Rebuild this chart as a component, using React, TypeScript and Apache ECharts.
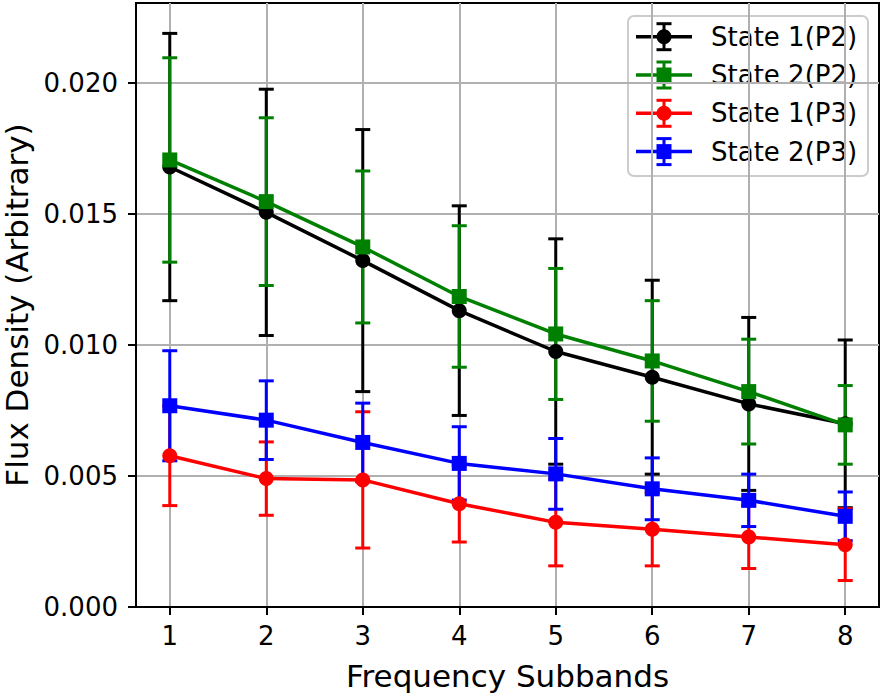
import React, { useEffect, useRef } from "react";
import * as echarts from "echarts";

const subbands = [1, 2, 3, 4, 5, 6, 7, 8];
const yTicks = [0, 0.005, 0.01, 0.015, 0.02];

const seriesNames = ["State 1(P2)", "State 2(P2)", "State 1(P3)", "State 2(P3)"];
const seriesColors = ["#000000", "#008000", "#ff0000", "#0000ff"];
const seriesSymbols = ["circle", "rect", "circle", "rect"];

const state1P2 = [0.01679, 0.01506, 0.01322, 0.01131, 0.00975, 0.00877, 0.00775, 0.00699];
const state1P2Err = [0.0051, 0.0047, 0.005, 0.004, 0.0043, 0.0037, 0.0033, 0.0032];
const state2P2 = [0.01706, 0.01547, 0.01374, 0.01185, 0.01042, 0.00939, 0.00822, 0.00695];
const state2P2Err = [0.0039, 0.0032, 0.0029, 0.0027, 0.0025, 0.0023, 0.002, 0.0015];
const state1P3 = [0.00577, 0.0049, 0.00485, 0.00394, 0.00323, 0.00297, 0.00267, 0.00238];
const state1P3Err = [0.0019, 0.0014, 0.0026, 0.00146, 0.00166, 0.0014, 0.0012, 0.00137];
const state2P3 = [0.00768, 0.00713, 0.00628, 0.00548, 0.00508, 0.00451, 0.00407, 0.00346];
const state2P3Err = [0.0021, 0.0015, 0.0015, 0.0014, 0.00135, 0.00118, 0.001, 0.00093];

const seriesValues = [state1P2, state2P2, state1P3, state2P3];
const seriesErrors = [state1P2Err, state2P2Err, state1P3Err, state2P3Err];

const FONT = "DejaVu Sans";

export default function App() {
  const ref = useRef<HTMLDivElement>(null);

  useEffect(() => {
    if (!ref.current) return;
    const chart = echarts.init(ref.current, undefined, { renderer: "svg" });

    const series: any[] = [];
    seriesNames.forEach((name, i) => {
      const color = seriesColors[i];
      series.push({
        type: "custom",
        name: name + " err",
        data: subbands.map((x, j) => [x, seriesValues[i][j], seriesErrors[i][j]]),
        encode: { x: 0, y: 1 },
        silent: true,
        renderItem: (params: any, api: any) => {
          const x = api.value(0);
          const y = api.value(1);
          const e = api.value(2);
          const top = api.coord([x, y + e]);
          const bot = api.coord([x, y - e]);
          const hw = 7.5;
          const style = { stroke: color, lineWidth: 3 };
          return {
            type: "group",
            children: [
              { type: "line", shape: { x1: top[0], y1: top[1], x2: bot[0], y2: bot[1] }, style },
              { type: "line", shape: { x1: top[0] - hw, y1: top[1], x2: top[0] + hw, y2: top[1] }, style },
              { type: "line", shape: { x1: bot[0] - hw, y1: bot[1], x2: bot[0] + hw, y2: bot[1] }, style },
            ],
          };
        },
      });
      series.push({
        type: "line",
        name,
        data: subbands.map((x, j) => [x, seriesValues[i][j]]),
        symbol: seriesSymbols[i],
        symbolSize: 15,
        showAllSymbol: true,
        lineStyle: { color, width: 3.5 },
        itemStyle: { color },
        silent: true,
      });
    });

    // legend drawn as graphic, built from series arrays
    const legendChildren: any[] = [
      {
        type: "rect",
        shape: { x: 628, y: 16, width: 240, height: 160, r: 6 },
        style: { fill: "rgba(255,255,255,0.8)", stroke: "#cccccc", lineWidth: 2 },
      },
    ];
    seriesNames.forEach((name, i) => {
      const color = seriesColors[i];
      const cy = 36.7 + i * 38.3;
      const cx = 664;
      legendChildren.push(
        { type: "line", shape: { x1: 636, y1: cy, x2: 692, y2: cy }, style: { stroke: color, lineWidth: 3.5 } },
        { type: "line", shape: { x1: cx, y1: cy - 13, x2: cx, y2: cy + 13 }, style: { stroke: color, lineWidth: 3 } },
        { type: "line", shape: { x1: cx - 7.5, y1: cy - 13, x2: cx + 7.5, y2: cy - 13 }, style: { stroke: color, lineWidth: 3 } },
        { type: "line", shape: { x1: cx - 7.5, y1: cy + 13, x2: cx + 7.5, y2: cy + 13 }, style: { stroke: color, lineWidth: 3 } },
        seriesSymbols[i] === "circle"
          ? { type: "circle", shape: { cx, cy, r: 7.5 }, style: { fill: color } }
          : { type: "rect", shape: { x: cx - 7.5, y: cy - 7.5, width: 15, height: 15 }, style: { fill: color } },
        {
          type: "text",
          x: 711,
          y: cy,
          style: { text: name, fill: "#000", font: `26px '${FONT}'`, verticalAlign: "middle", align: "left" },
        }
      );
    });

    chart.setOption({
      animation: false,
      backgroundColor: "#ffffff",
      grid: {
        left: 136,
        right: 4,
        top: 3,
        bottom: 89,
        show: true,
        borderColor: "#000",
        borderWidth: 2,
        containLabel: false,
        outerBoundsMode: "none",
      },
      xAxis: {
        type: "value",
        min: 0.65,
        max: 8.35,
        name: "Frequency Subbands",
        nameLocation: "middle",
        nameGap: 53,
        nameTextStyle: { fontSize: 31, color: "#000", fontFamily: FONT },
        axisLine: { show: true, onZero: false, lineStyle: { color: "#000", width: 2 } },
        axisTick: { show: true, length: 8, customValues: subbands, lineStyle: { color: "#000", width: 2 } },
        axisLabel: {
          customValues: subbands,
          fontSize: 26,
          color: "#000",
          fontFamily: FONT,
          margin: 16,
          formatter: (v: number) => String(Math.round(v)),
        },
        splitLine: { show: true, lineStyle: { color: "#b0b0b0", width: 2 } },
      },
      yAxis: {
        type: "value",
        min: 0,
        max: 0.02305,
        name: "Flux Density (Arbitrary)",
        nameLocation: "middle",
        nameGap: 101,
        nameTextStyle: { fontSize: 31, color: "#000", fontFamily: FONT },
        axisLine: { show: true, onZero: false, lineStyle: { color: "#000", width: 2 } },
        axisTick: { show: true, length: 8, customValues: yTicks, lineStyle: { color: "#000", width: 2 } },
        axisLabel: {
          customValues: yTicks,
          fontSize: 26,
          color: "#000",
          fontFamily: FONT,
          margin: 18,
          formatter: (v: number) => v.toFixed(3),
        },
        splitLine: { show: true, lineStyle: { color: "#b0b0b0", width: 2 } },
      },
      graphic: [{ type: "group", z: 100, children: legendChildren }],
      series,
    });

    return () => chart.dispose();
  }, []);

  return (
    <div
      ref={ref}
      style={{ position: "fixed", left: 0, top: 0, width: 883, height: 696, background: "#fff" }}
    />
  );
}
